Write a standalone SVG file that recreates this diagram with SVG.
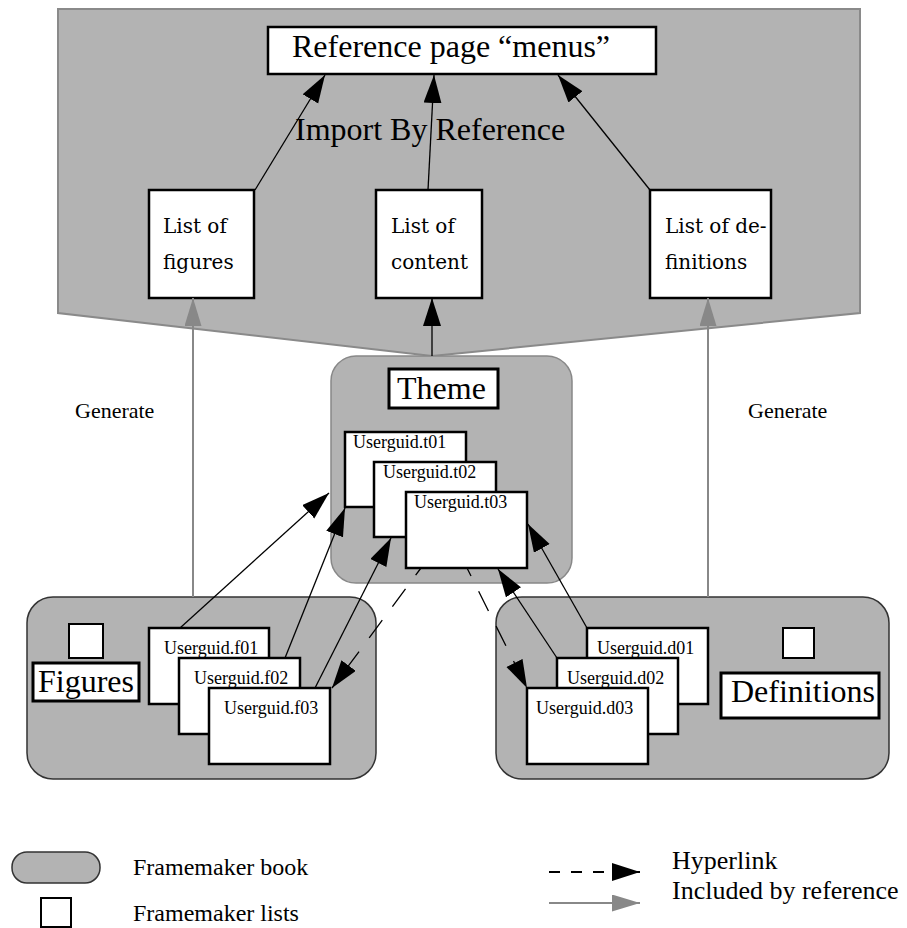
<svg xmlns="http://www.w3.org/2000/svg" width="907" height="928" viewBox="0 0 907 928">
<defs>
<style>
.serif{font-family:"Liberation Serif","Times New Roman",serif;fill:#000}
.book{fill:#b3b3b3;stroke:#333;stroke-width:1.5}
.page{fill:#fff;stroke:#000;stroke-width:2.5}
.label{fill:#fff;stroke:#000;stroke-width:3}
.conn{stroke:#000;stroke-width:1.3;fill:none}
.dash{stroke:#000;stroke-width:1.3;fill:none;stroke-dasharray:22 17;stroke-dashoffset:13}
.gray{stroke:#888;stroke-width:2;fill:none}
.ug{font-size:18px}
.big{font-size:32px}
.list{font-family:"DejaVu Serif","Liberation Serif",serif;font-size:20px}
</style>
<marker id="ab" markerUnits="userSpaceOnUse" markerWidth="30" markerHeight="20" refX="28" refY="9" orient="auto">
<path d="M0,0 L28,9 L0,18 z" fill="#000"/>
</marker>
<marker id="ag" markerUnits="userSpaceOnUse" markerWidth="30" markerHeight="20" refX="28" refY="8.5" orient="auto">
<path d="M0,0 L28,8.5 L0,17 z" fill="#888"/>
</marker>
</defs>

<g id="reference-area">
<polygon points="58,9 860,9 860,313 432,356 58,313" fill="#b3b3b3" stroke="#8a8a8a" stroke-width="2"/>
</g>

<g id="ref-page">
<rect x="268" y="27" width="388" height="47" class="page" stroke-width="3.5"/>
<text x="292" y="57" class="serif big">Reference page “menus”</text>
</g>
<g id="import-label">
<text x="295" y="140" class="serif big">Import By Reference</text>
</g>

<g id="list-figures">
<rect x="149" y="190" width="105" height="108" class="page"/>
<text x="163" y="233" class="list">List of</text>
<text x="163" y="269" class="list">figures</text>
</g>
<g id="list-content">
<rect x="376" y="190" width="106" height="108" class="page"/>
<text x="391" y="233" class="list">List of</text>
<text x="391" y="269" class="list">content</text>
</g>
<g id="list-definitions">
<rect x="650" y="190" width="121" height="108" class="page"/>
<text x="665" y="233" class="list">List of de-</text>
<text x="665" y="269" class="list">finitions</text>
</g>

<g id="theme-book">
<rect x="331" y="356" width="241" height="227" rx="25" fill="#b3b3b3" stroke="#888" stroke-width="1.5"/>
<rect x="389" y="369" width="109" height="39" class="label"/>
<text x="397" y="399" class="serif big">Theme</text>
</g>
<g id="t01">
<rect x="345" y="432" width="121" height="75" class="page"/>
<text x="353" y="448" class="serif ug">Userguid.t01</text>
</g>
<g id="t02">
<rect x="374" y="462" width="122" height="75" class="page"/>
<text x="383" y="478" class="serif ug">Userguid.t02</text>
</g>
<g id="t03">
<rect x="406" y="492" width="121" height="76" class="page"/>
<text x="414" y="508" class="serif ug">Userguid.t03</text>
</g>

<g id="figures-book">
<rect x="27" y="597" width="349" height="182" rx="26" class="book"/>
<rect x="69" y="624" width="34" height="34" fill="#fff" stroke="#000" stroke-width="2"/>
<rect x="33" y="663" width="106" height="38" class="label"/>
<text x="38" y="692" class="serif big">Figures</text>
</g>
<g id="f01">
<rect x="149" y="628" width="120" height="76" class="page"/>
<text x="164" y="654" class="serif ug">Userguid.f01</text>
</g>
<g id="f02">
<rect x="179" y="658" width="121" height="76" class="page"/>
<text x="194" y="684" class="serif ug">Userguid.f02</text>
</g>
<g id="f03">
<rect x="209" y="688" width="121" height="76" class="page"/>
<text x="224" y="714" class="serif ug">Userguid.f03</text>
</g>

<g id="definitions-book">
<rect x="496" y="597" width="393" height="182" rx="26" class="book"/>
<rect x="783" y="628" width="31" height="30" fill="#fff" stroke="#000" stroke-width="2"/>
<rect x="721" y="673" width="158" height="45" class="label"/>
<text x="731" y="702" class="serif big">Definitions</text>
</g>
<g id="d01">
<rect x="587" y="628" width="121" height="76" class="page"/>
<text x="597" y="654" class="serif ug">Userguid.d01</text>
</g>
<g id="d02">
<rect x="557" y="658" width="121" height="76" class="page"/>
<text x="567" y="684" class="serif ug">Userguid.d02</text>
</g>
<g id="d03">
<rect x="527" y="688" width="121" height="76" class="page"/>
<text x="536" y="714" class="serif ug">Userguid.d03</text>
</g>

<g id="generate-left"><text x="75" y="418" class="serif" font-size="22">Generate</text></g>
<g id="generate-right"><text x="748" y="418" class="serif" font-size="22">Generate</text></g>

<g id="connectors">
<line x1="255" y1="190" x2="325" y2="75" class="conn" marker-end="url(#ab)"/>
<line x1="428" y1="190" x2="434" y2="75" class="conn" marker-end="url(#ab)"/>
<line x1="650" y1="190" x2="558" y2="75" class="conn" marker-end="url(#ab)"/>
<line x1="432" y1="356" x2="432" y2="298" class="conn" stroke-width="2" marker-end="url(#ab)"/>
<line x1="193" y1="597" x2="193" y2="298" class="gray" marker-end="url(#ag)"/>
<line x1="708" y1="597" x2="708" y2="298" class="gray" marker-end="url(#ag)"/>
<line x1="180" y1="628" x2="329" y2="493" class="conn" marker-end="url(#ab)"/>
<line x1="285" y1="658" x2="345" y2="508" class="conn" marker-end="url(#ab)"/>
<line x1="315" y1="688" x2="391" y2="538" class="conn" marker-end="url(#ab)"/>
<line x1="587" y1="628" x2="528" y2="524" class="conn" marker-end="url(#ab)"/>
<line x1="557" y1="658" x2="498" y2="569" class="conn" marker-end="url(#ab)"/>
<line x1="421" y1="568" x2="332" y2="688" class="dash" marker-end="url(#ab)"/>
<line x1="467" y1="568" x2="527" y2="688" class="dash" marker-end="url(#ab)"/>
</g>

<g id="legend">
<rect x="12" y="852" width="88" height="31" rx="15" class="book"/>
<text x="133" y="875" class="serif" font-size="24">Framemaker book</text>
<rect x="41" y="898" width="30" height="29" fill="#fff" stroke="#000" stroke-width="2"/>
<text x="133" y="921" class="serif" font-size="24">Framemaker lists</text>
<line x1="549" y1="872" x2="640" y2="872" stroke="#000" stroke-width="2" stroke-dasharray="11 11" marker-end="url(#ab)"/>
<text x="672" y="869" class="serif" font-size="26">Hyperlink</text>
<line x1="549" y1="903" x2="640" y2="903" stroke="#888" stroke-width="2" marker-end="url(#ag)"/>
<text x="672" y="899" class="serif" font-size="26">Included by reference</text>
</g>
</svg>
